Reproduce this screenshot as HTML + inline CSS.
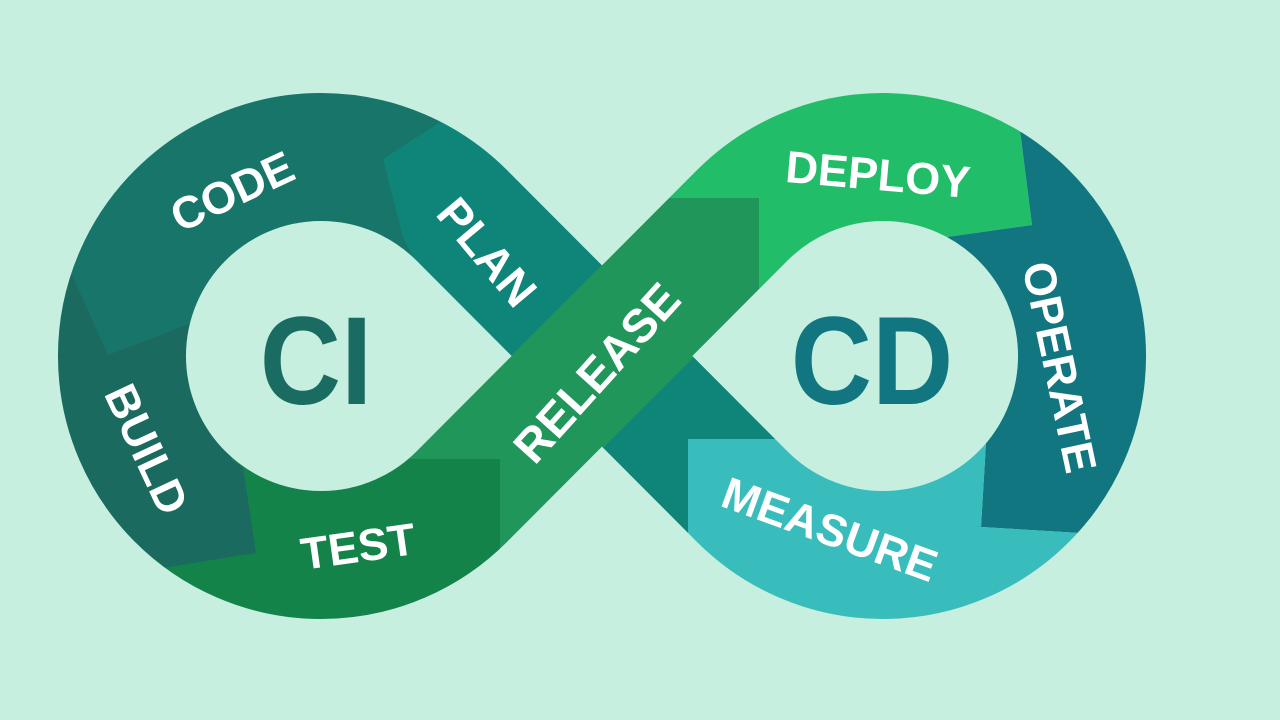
<!DOCTYPE html>
<html><head><meta charset="utf-8"><style>
html,body{margin:0;padding:0;background:#c6efdf;}
svg{display:block}
text{font-family:"Liberation Sans",sans-serif;font-weight:bold;fill:#fff;}
</style></head><body>
<svg width="1280" height="720" viewBox="0 0 1280 720" xmlns="http://www.w3.org/2000/svg">
<rect width="1280" height="720" fill="#c6efdf"/>
<defs>
<mask id="band" maskUnits="userSpaceOnUse" x="0" y="0" width="1280" height="720">
<rect width="1280" height="720" fill="#000"/>
<path d="M602,356 L461.5,215.1 A199,199 0 1 0 461.5,496.9 L742.5,215.1 A199,199 0 1 1 742.5,496.9 Z" fill="none" stroke="#fff" stroke-width="128"/>
</mask>
</defs>
<g mask="url(#band)">
<rect x="0" y="0" width="602" height="720" fill="#187569"/>
<polygon points="0,245 72,275 108,355 200,320 243,467 256,553 150,570 100,720 0,720" fill="#1a6a60"/>
<polygon points="383,159 490,90 920,439 688,439 688,720 640,720 403,237" fill="#0f857a"/>
<polygon points="230,459 500,459 500,720 160,720 150,570 256,553 243,467" fill="#13834a"/>
<polygon points="620,0 1015,0 1020,130 1032,225 947,237 883,355 720,355 640,198" fill="#22bd69"/>
<polygon points="1015,0 1280,0 1280,720 1100,720 1080,533 981,527 986,443 883,355 947,237 1032,225 1020,130" fill="#117680"/>
<polygon points="688,439 883,439 986,443 981,527 1080,533 1100,720 688,720" fill="#39bcbc"/>
<polygon points="408,459 669,198 759,198 759,292 500,551 500,459" fill="#21965a"/>
</g>
<text x="0" y="0" font-size="125" text-anchor="middle" transform="translate(316,404) scale(0.9,1)" style="fill:#1a6b61">CI</text>
<text x="0" y="0" font-size="125" text-anchor="middle" transform="translate(872,404) scale(0.9,1)" style="fill:#117680">CD</text>
<text font-size="45" text-anchor="middle" transform="translate(232,191) rotate(-25) translate(0,16)">CODE</text>
<text font-size="46" text-anchor="middle" transform="translate(487,252) rotate(50) translate(0,16)">PLAN</text>
<text font-size="45" text-anchor="middle" transform="translate(147,449) rotate(65) translate(0,16)">BUILD</text>
<text font-size="45" text-anchor="middle" transform="translate(358,546) rotate(-8) translate(0,16)">TEST</text>
<text font-size="47" text-anchor="middle" transform="translate(597,373) rotate(-48) translate(0,16)">RELEASE</text>
<text font-size="45" text-anchor="middle" transform="translate(878,174) rotate(5) translate(0,16)">DEPLOY</text>
<text font-size="45" text-anchor="middle" transform="translate(1060,367) rotate(78) translate(0,16)">OPERATE</text>
<text font-size="45" text-anchor="middle" transform="translate(830,529) rotate(20) translate(0,16)">MEASURE</text>
</svg>
</body></html>
